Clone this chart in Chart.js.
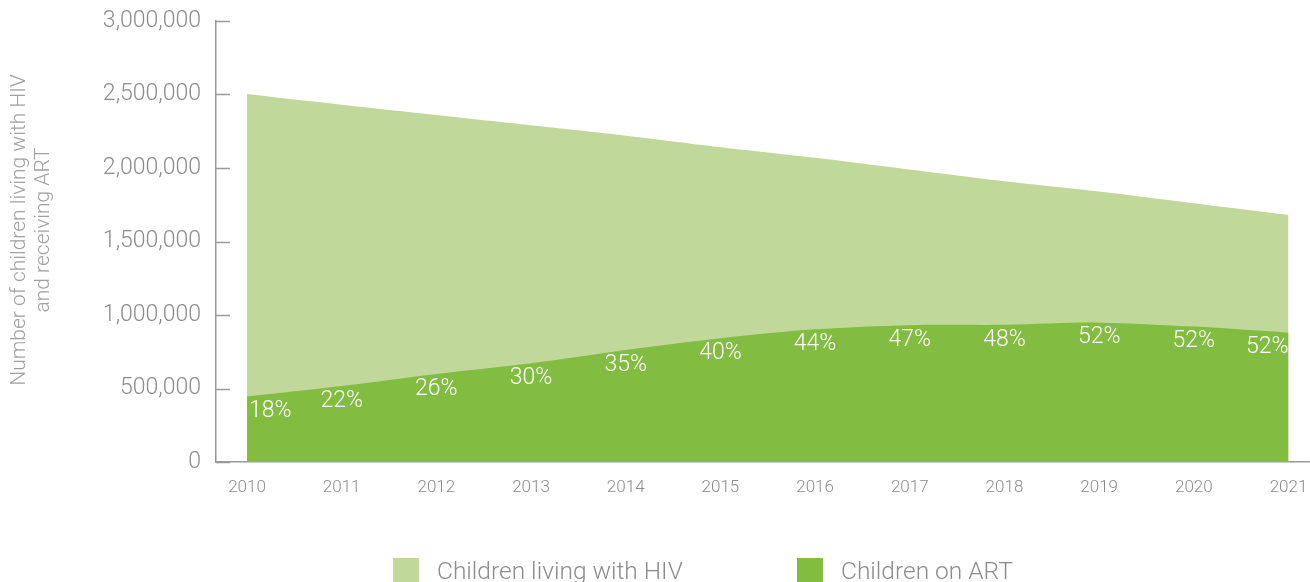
<!DOCTYPE html>
<html>
<head>
<meta charset="utf-8">
<script src="https://cdn.jsdelivr.net/npm/chart.js@4.4.1/dist/chart.umd.min.js"></script>
<style>
  html, body { margin: 0; padding: 0; background: #ffffff; }
  #wrap { position: relative; width: 1310px; height: 582px; overflow: hidden; }
  #c { position: absolute; left: 0; top: 0; }
  .lg { position: absolute; top: 558px; display: flex; align-items: flex-start; font-family: Roboto, "Liberation Sans", sans-serif; font-weight: 300; font-size: 24.5px; color: #8c8c8c; line-height: 26px; white-space: nowrap; }
  .lg .box { width: 26px; height: 26px; margin-right: 18px; flex: none; }
</style>
</head>
<body>
<div id="wrap">
  <canvas id="c" width="1310" height="582"></canvas>
  <div class="lg" style="left:393px"><span class="box" style="background:#c0d99b"></span><span>Children living with HIV</span></div>
  <div class="lg" style="left:797px"><span class="box" style="background:#82bc41"></span><span>Children on ART</span></div>
</div>
<script>
// ---- data ----
const years = [2010, 2011, 2012, 2013, 2014, 2015, 2016, 2017, 2018, 2019, 2020, 2021];
const childrenLivingWithHIV = [2503000, 2430000, 2360000, 2290000, 2220000, 2142000, 2070000, 1990000, 1910000, 1840000, 1760000, 1681000];
const childrenOnART = [445000, 517000, 599000, 672000, 762000, 842000, 903000, 931000, 933000, 948000, 921000, 880000];
const coverageLabels = ["18%", "22%", "26%", "30%", "35%", "40%", "44%", "47%", "48%", "52%", "52%", "52%"];
const yTicks = [0, 500000, 1000000, 1500000, 2000000, 2500000, 3000000];
const yTitle = ["Number of children living with HIV", "and receiving ART"];

const GRAY = '#8c8c8c';
const AXIS = '#999999';
const FONT = 'Roboto, "Liberation Sans", sans-serif';

const tickMarks = {
  id: 'tickMarks',
  beforeDatasetsDraw(chart) {
    const y = chart.scales.y, ctx = chart.ctx;
    ctx.save();
    ctx.strokeStyle = AXIS;
    ctx.lineWidth = 1.5;
    yTicks.forEach(v => {
      const py = Math.round(y.getPixelForValue(v)) + 0.5;
      ctx.beginPath();
      ctx.moveTo(chart.chartArea.left, py);
      ctx.lineTo(chart.chartArea.left + 14, py);
      ctx.stroke();
    });
    ctx.restore();
  }
};

const axisTitle = {
  id: 'axisTitle',
  afterDraw(chart) {
    const ctx = chart.ctx;
    const lh = 23.5;
    ctx.save();
    ctx.fillStyle = '#a0a0a0';
    ctx.font = '300 21px ' + FONT;
    ctx.textAlign = 'center';
    ctx.textBaseline = 'middle';
    ctx.translate(20, 230);
    ctx.rotate(-Math.PI / 2);
    yTitle.forEach((line, i) => ctx.fillText(line, 0, i * lh));
    ctx.restore();
  }
};

const pctLabels = {
  id: 'pctLabels',
  afterDatasetsDraw(chart) {
    const xs = chart.scales.x, ys = chart.scales.y, ctx = chart.ctx;
    ctx.save();
    ctx.fillStyle = '#ffffff';
    ctx.font = '300 23px ' + FONT;
    ctx.textBaseline = 'middle';
    years.forEach((yr, i) => {
      let px = xs.getPixelForValue(yr);
      const py = ys.getPixelForValue(childrenOnART[i]) + 15;
      if (i === 0) { ctx.textAlign = 'left'; px += 2; }
      else if (i === years.length - 1) { ctx.textAlign = 'right'; }
      else { ctx.textAlign = 'center'; }
      ctx.fillText(coverageLabels[i], px, py);
    });
    ctx.restore();
  }
};

new Chart(document.getElementById('c'), {
  type: 'line',
  data: {
    datasets: [
      {
        label: 'Children living with HIV',
        data: years.map((yr, i) => ({ x: yr, y: childrenLivingWithHIV[i] })),
        backgroundColor: '#c0d99b',
        borderWidth: 0,
        borderColor: 'rgba(0,0,0,0)',
        pointRadius: 0,
        fill: 'origin',
        tension: 0.25,
        order: 2
      },
      {
        label: 'Children on ART',
        data: years.map((yr, i) => ({ x: yr, y: childrenOnART[i] })),
        backgroundColor: '#82bc41',
        borderWidth: 0,
        borderColor: 'rgba(0,0,0,0)',
        pointRadius: 0,
        fill: 'origin',
        tension: 0.3,
        order: 1
      }
    ]
  },
  options: {
    responsive: false,
    animation: false,
    layout: { padding: { left: 0, right: 0, top: 21, bottom: 0 } },
    plugins: { legend: { display: false }, tooltip: { enabled: false } },
    scales: {
      x: {
        type: 'linear',
        min: 2009.6726,
        max: 2021.227,
        afterBuildTicks(scale) { scale.ticks = years.map(v => ({ value: v })); },
        afterFit(scale) { scale.height = 120; scale.paddingLeft = 0; scale.paddingRight = 0; },
        grid: { display: false, drawTicks: false },
        border: { display: true, color: AXIS, width: 1.5 },
        ticks: {
          padding: 16,
          color: GRAY,
          font: { family: FONT, size: 17, weight: 300 },
          autoSkip: false,
          maxRotation: 0,
          callback: v => String(v)
        }
      },
      y: {
        min: 0,
        max: 3000000,
        afterBuildTicks(scale) { scale.ticks = yTicks.map(v => ({ value: v })); },
        afterFit(scale) { scale.width = 216; scale.paddingTop = 0; scale.paddingBottom = 0; },
        grid: { display: false, drawTicks: false },
        border: { display: true, color: AXIS, width: 1.5 },
        ticks: {
          padding: 15,
          color: GRAY,
          font: { family: FONT, size: 23, weight: 300 },
          callback: v => Number(v).toLocaleString('en-US')
        },
        title: { display: false, text: yTitle }
      }
    }
  },
  plugins: [tickMarks, pctLabels, axisTitle]
});
</script>
</body>
</html>
